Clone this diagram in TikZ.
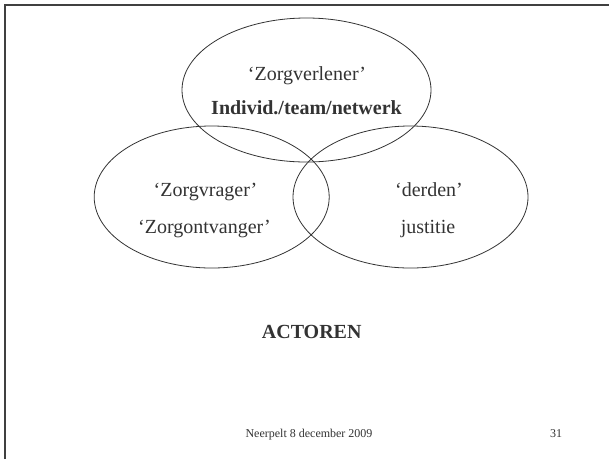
\documentclass[tikz,border=0pt]{standalone}
\usepackage{fontspec}
\setmainfont{Liberation Serif}
\usetikzlibrary{shapes.geometric}
\definecolor{ink}{HTML}{333333}
\definecolor{framecol}{HTML}{404040}
\begin{document}
\begin{tikzpicture}[x=1pt,y=-1pt,
  setshape/.style={draw=ink, line width=0.8pt, ellipse, inner sep=0pt, outer sep=0pt},
  lbl/.style={text=ink, anchor=base, inner sep=0pt, font=\fontsize{20}{24}\selectfont},
  blbl/.style={lbl, font=\fontsize{20}{24}\selectfont\bfseries},
  foot/.style={lbl, font=\fontsize{12}{14}\selectfont}]
\useasboundingbox (0,0) rectangle (609,459);
\draw[framecol, line width=2pt] (4.5,459) -- (4.5,5) -- (609,5);
\node[setshape, minimum width=249pt, minimum height=144pt] (top) at (306.5,90) {};
\node[setshape, minimum width=235pt, minimum height=142pt] (left) at (211.7,197) {};
\node[setshape, minimum width=235pt, minimum height=142pt] (right) at (410.5,197) {};
\node[lbl] (zv) at (307,80) {‘Zorgverlener’};
\node[blbl] (ind) at (306.5,114) {Individ./team/netwerk};
\node[lbl] (zvr) at (205.5,196.7) {‘Zorgvrager’};
\node[lbl] (zo) at (204.5,233.3) {‘Zorgontvanger’};
\node[lbl] (dd) at (429,196.7) {‘derden’};
\node[lbl] (jus) at (428,233.3) {justitie};
\node[blbl] (act) at (311.7,338.3) {ACTOREN};
\node[foot] (date) at (309,437) {Neerpelt 8 december 2009};
\node[foot] (num) at (556,437) {31};
\end{tikzpicture}
\end{document}
